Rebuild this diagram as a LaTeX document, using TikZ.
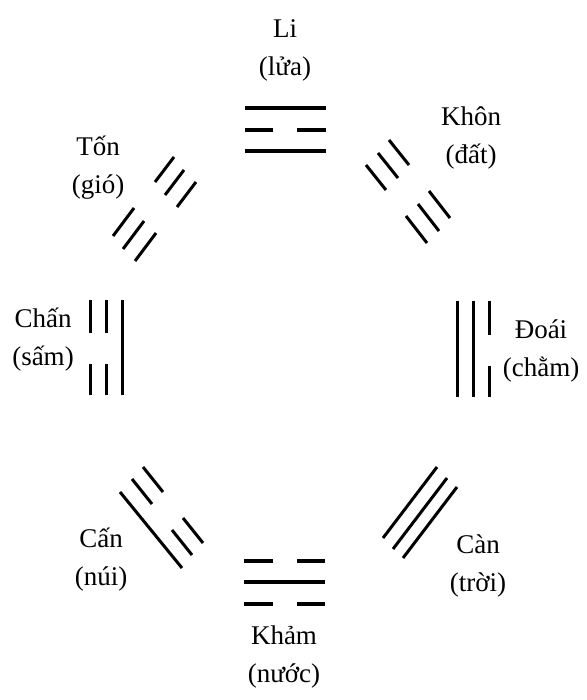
\documentclass[tikz,border=0pt]{standalone}
\usepackage{fontspec}
\setmainfont{Liberation Serif}
\begin{document}
\begin{tikzpicture}[x=1pt,y=-1pt,
  hbar/.style={line width=3.8pt},
  dbar/.style={line width=3pt},
  lbl/.style={align=center,font=\fontsize{27}{38}\selectfont,inner sep=0pt}]
\useasboundingbox (0,0) rectangle (586,700);
\fill[white] (0,0) rectangle (586,700);
% Li (top)
\draw[hbar] (245,108) -- (326,108);
\draw[hbar] (245,130) -- (273,130);
\draw[hbar] (297,130) -- (326,130);
\draw[hbar] (245,151) -- (326,151);
\node[lbl] (li) at (285,50) {Li\\(lửa)};
% Khôn (top right) all broken
\foreach \dx/\dy in {0/0,-11/13,-23/25}{
  \draw[dbar] (389+\dx,140+\dy) -- (409+\dx,165+\dy);
  \draw[dbar] (429+\dx,191+\dy) -- (450+\dx,218+\dy);
}
\node[lbl] (khon) at (471,138) {Khôn\\(đất)};
% Tốn (top left)
\foreach \dx/\dy in {0/0,10/13,22/25}{
  \draw[dbar] (174+\dx,157+\dy) -- (155+\dx,182+\dy);
  \draw[dbar] (134+\dx,208+\dy) -- (113+\dx,236+\dy);
}
\node[lbl] (ton) at (98,168) {Tốn\\(gió)};
% Chấn (left)
\foreach \x in {90,106}{
  \draw[dbar] (\x,300) -- (\x,333);
  \draw[dbar] (\x,364) -- (\x,395);
}
\draw[dbar] (122,300) -- (122,395);
\node[lbl] (chan) at (43,340) {Chấn\\(sấm)};
% Đoái (right)
\draw[dbar] (457,301) -- (457,397);
\draw[dbar] (473,301) -- (473,397);
\draw[dbar] (489,301) -- (489,335);
\draw[dbar] (489,366) -- (489,397);
\node[lbl] (doai) at (541,351) {Đoái\\(chằm)};
% Cấn (bottom left)
\foreach \dx/\dy in {0/0,-11/12}{
  \draw[dbar] (143+\dx,467+\dy) -- (163+\dx,492+\dy);
  \draw[dbar] (183+\dx,518+\dy) -- (203+\dx,543+\dy);
}
\draw[dbar] (120,492) -- (182,568);
\node[lbl] (can1) at (101,560) {Cấn\\(núi)};
% Càn (bottom right)
\foreach \dx/\dy in {0/0,10/11,20/20}{
  \draw[dbar] (383+\dx,538+\dy) -- (437+\dx,467+\dy);
}
\node[lbl] (can2) at (478,566) {Càn\\(trời)};
% Khảm (bottom)
\draw[hbar] (244,561) -- (273,561);
\draw[hbar] (297,561) -- (325,561);
\draw[hbar] (244,582) -- (325,582);
\draw[hbar] (244,604) -- (273,604);
\draw[hbar] (297,604) -- (325,604);
\node[lbl] (kham) at (284,657) {Khảm\\(nước)};
\end{tikzpicture}
\end{document}
